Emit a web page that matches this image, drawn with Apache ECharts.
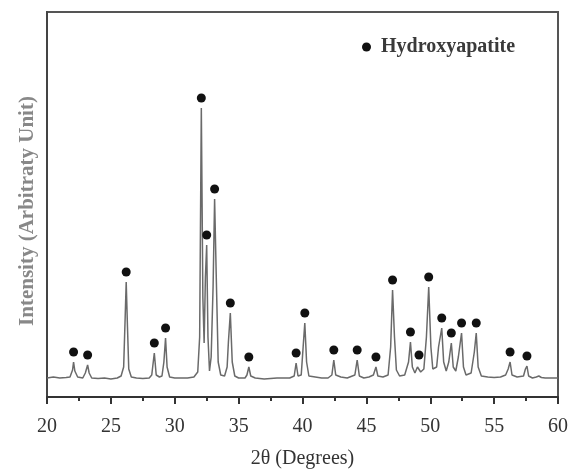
<!DOCTYPE html>
<html>
<head>
<meta charset="utf-8">
<script src="https://cdn.jsdelivr.net/npm/echarts@6/dist/echarts.min.js"></script>
<style>
html,body{margin:0;padding:0;background:#fff;}
#chart{width:569px;height:469px;}
</style>
</head>
<body>
<div id="chart"></div>
<script>
// XRD trace: 2θ (degrees) and intensity (arbitrary units)
var traceX = [20.0,20.5,21.0,21.5,21.8,22.0,22.08,22.18,22.4,22.8,23.0,23.18,23.3,23.5,24.0,24.5,25.0,25.5,25.8,26.0,26.12,26.2,26.3,26.4,26.6,27.0,27.5,28.0,28.2,28.4,28.55,28.8,29.0,29.15,29.28,29.4,29.6,30.0,30.5,31.0,31.5,31.8,31.95,32.08,32.2,32.3,32.4,32.5,32.6,32.72,32.85,33.0,33.12,33.25,33.4,33.6,33.9,34.1,34.2,34.35,34.5,34.7,35.0,35.5,35.65,35.8,35.95,36.3,37.0,37.5,38.0,38.5,39.0,39.35,39.5,39.65,39.9,40.05,40.18,40.32,40.5,41.0,41.5,42.0,42.3,42.45,42.6,43.0,43.5,44.1,44.28,44.45,44.8,45.2,45.55,45.75,45.9,46.3,46.7,46.9,47.05,47.2,47.35,47.6,48.0,48.3,48.45,48.6,48.8,49.0,49.12,49.25,49.5,49.7,49.88,50.05,50.2,50.5,50.65,50.9,51.05,51.25,51.45,51.65,51.8,52.0,52.2,52.45,52.6,52.8,53.2,53.45,53.6,53.75,54.0,54.5,55.0,55.5,55.9,56.1,56.25,56.4,56.8,57.3,57.45,57.57,57.7,58.0,58.3,58.5,58.7,59.0,59.5,60.0];
var traceY = [19,20,19,19.5,20,27,35,26,20,19,24,32,24,19,18.5,19,18,19,21,30,80,115,70,28,20,19,18.5,19,22,44,22,20,21,35,59,30,20,19,19,19,20,25,60,289,100,54,120,152,60,26,40,110,198,120,35,22,21,30,55,84,35,21,19,19,22,30,21,19,18,18.5,19,19,19,21,34,21,22,50,74,35,21,20,19,19,22,37,22,20,19,22,37,21,19,20,22,30,21,20,22,50,107,60,27,21,22,35,55,30,24,30,32,25,28,60,110,50,28,30,50,69,35,26,35,54,30,26,40,64,30,22,24,45,64,30,21,20,19.5,20,22,28,35,22,20,21,28,31,21,19,20,21,19.5,19,19,19];

// Hydroxyapatite peak markers (2θ, peak top intensity)
var peakX = [22.08,23.18,26.2,28.4,29.28,32.08,32.5,33.12,34.35,35.8,39.5,40.18,42.45,44.28,45.75,47.05,48.45,49.12,49.88,50.9,51.65,52.45,53.6,56.25,57.57];
var peakY = [35,32,115,44,59,289,152,198,84,30,34,74,37,37,30,107,55,32,110,69,54,64,64,35,31];

var xTicks = [20,25,30,35,40,45,50,55,60];

var traceData = traceX.map(function(x,i){return [x, traceY[i]];});
var peakData = peakX.map(function(x,i){return [x, peakY[i]];});

var serif = '"Liberation Serif","DejaVu Serif",serif';
var chart = echarts.init(document.getElementById('chart'));
chart.setOption({
  animation:false,
  backgroundColor:'#ffffff',
  grid:{left:47, top:12, width:511, height:385, containLabel:false, outerBoundsMode:'none',
        show:true, borderColor:'#555', borderWidth:2, backgroundColor:'transparent'},
  legend:{
    data:[{name:'Hydroxyapatite', icon:'circle', itemStyle:{color:'#111', opacity:1}}],
    left:357, top:32, itemWidth:9, itemHeight:9,
    formatter:' {name}',
    textStyle:{fontFamily:serif, fontSize:20, fontWeight:'bold', color:'#3a3a3a'}
  },
  xAxis:{
    type:'value', min:xTicks[0], max:xTicks[xTicks.length-1], interval:5,
    name:'2θ (Degrees)', nameLocation:'middle', nameGap:52,
    nameTextStyle:{fontFamily:serif, fontSize:20, color:'#333'},
    axisLine:{show:true, onZero:false, lineStyle:{color:'#333', width:2}},
    axisTick:{show:true, inside:false, length:7, lineStyle:{color:'#333', width:2}},
    minorTick:{show:true, splitNumber:2, length:4, lineStyle:{color:'#333', width:2}},
    axisLabel:{margin:20, fontFamily:serif, fontSize:20, color:'#333'},
    splitLine:{show:false}
  },
  yAxis:{
    type:'value', min:0, max:385,
    name:'Intensity (Arbitraty Unit)', nameLocation:'middle', nameGap:9, nameRotate:90,
    nameTextStyle:{fontFamily:serif, fontSize:21, fontWeight:'bold', color:'#888', padding:[0,13,0,0]},
    axisLine:{show:true, lineStyle:{color:'#444', width:2}},
    axisTick:{show:false}, axisLabel:{show:false}, splitLine:{show:false}
  },
  series:[
    {type:'line', name:'trace', data:traceData, showSymbol:false, symbol:'none',
     lineStyle:{color:'#6a6a6a', width:1.5}, z:2, silent:true},
    {type:'scatter', name:'Hydroxyapatite', data:peakData, symbol:'circle', symbolSize:9,
     symbolOffset:[0,-10], itemStyle:{color:'#111', opacity:1}, z:3}
  ]
});
</script>
</body>
</html>
